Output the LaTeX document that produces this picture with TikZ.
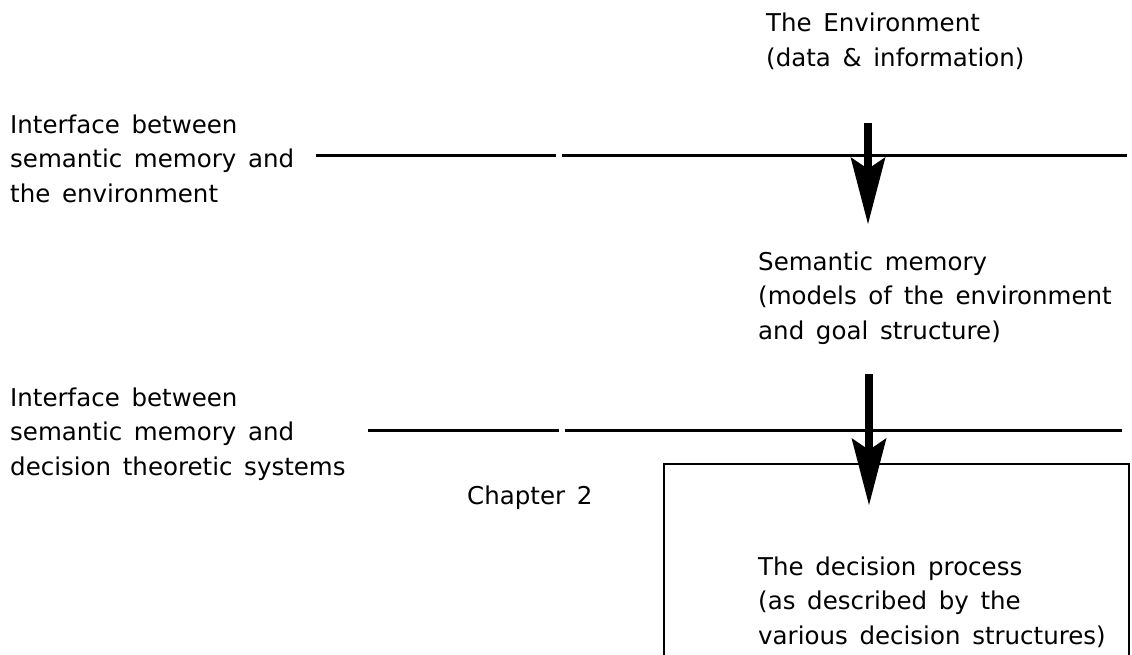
\documentclass[tikz,border=0pt]{standalone}
\usepackage{fontspec}
\setmainfont[WordSpace={1.5}]{DejaVu Sans}
\usetikzlibrary{arrows.meta}
\begin{document}
\begin{tikzpicture}[x=1pt,y=-1pt,
  lbl/.style={anchor=base west,inner sep=0pt,align=left,font={\fontsize{24.5}{34.5}\selectfont}},
  rule/.style={line width=3pt},
  bigarrow/.style={line width=8pt,-{Stealth[length=67pt,width=35pt,inset=12pt,line width=0pt]}},
  boxline/.style={line width=2.4pt}]
\useasboundingbox[fill=white] (0,0) rectangle (1132,654);
% texts (anchored at the baseline of their last line)
\node[lbl] (env) at (766,66) {The Environment\\(data \& information)};
\node[lbl] (if1) at (10,202) {Interface between\\semantic memory and\\the environment};
\node[lbl] (sem) at (758,339) {Semantic memory\\(models of the environment\\and goal structure)};
\node[lbl] (if2) at (10,475) {Interface between\\semantic memory and\\decision theoretic systems};
\node[lbl] (chap) at (467,504) {Chapter 2};
\node[lbl] (dec) at (758,644) {The decision process\\(as described by the\\various decision structures)};
% interface lines
\coordinate (l1a) at (316,155); \coordinate (l1b) at (556,155);
\coordinate (l1c) at (562,155); \coordinate (l1d) at (1127,155);
\draw[rule] (l1a) -- (l1b);
\draw[rule] (l1c) -- (l1d);
\coordinate (l2a) at (368,430); \coordinate (l2b) at (559,430);
\coordinate (l2c) at (565,430); \coordinate (l2d) at (1122,430);
\draw[rule] (l2a) -- (l2b);
\draw[rule] (l2c) -- (l2d);
% decision box (open at bottom)
\coordinate (bx1) at (664,660); \coordinate (bx2) at (664,464);
\coordinate (bx3) at (1129,464); \coordinate (bx4) at (1129,660);
\draw[boxline] (bx1) -- (bx2) -- (bx3) -- (bx4);
% arrows
\coordinate (a1s) at (868,123); \coordinate (a1e) at (868,224);
\draw[bigarrow] (a1s) -- (a1e);
\coordinate (a2s) at (869,374); \coordinate (a2e) at (869,505);
\draw[bigarrow] (a2s) -- (a2e);
\end{tikzpicture}
\end{document}
